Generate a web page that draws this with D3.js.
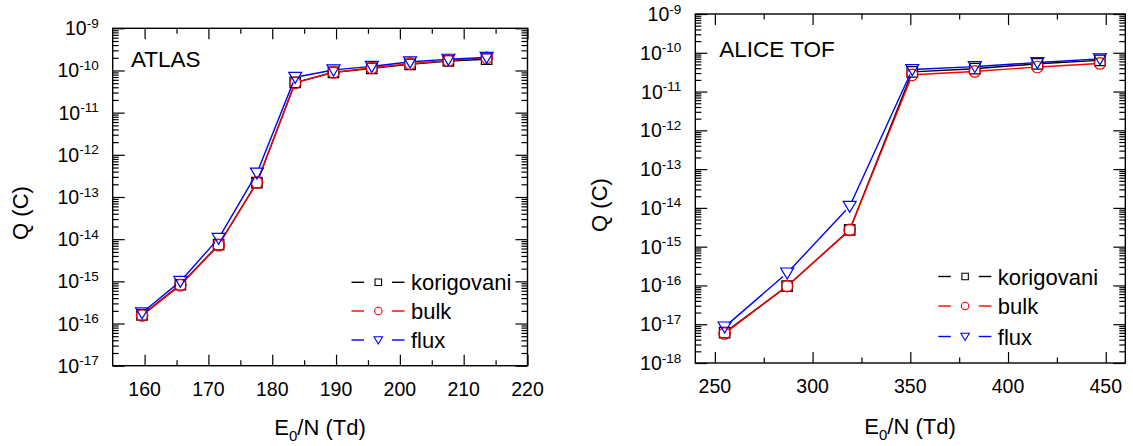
<!DOCTYPE html>
<html>
<head>
<meta charset="utf-8">
<script src="https://cdn.jsdelivr.net/npm/d3@7"></script>
<style>
  html, body { margin: 0; padding: 0; background: #fff; }
  svg { display: block; font-family: "Liberation Sans", Arial, Helvetica, sans-serif; }
</style>
</head>
<body>
<svg id="chart" width="1133" height="446"></svg>
<script>
// ---------------- DATA ----------------
const seriesNames = ["korigovani", "bulk", "flux"];

// ATLAS panel
const atlasE = [159.6, 165.6, 171.6, 177.6, 183.6, 189.6, 195.6, 201.6, 207.6, 213.6];
const atlasKorigovani = [1.6e-16, 8.3e-16, 7.4e-15, 2.2e-13, 5.2e-11, 9.0e-11, 1.12e-10, 1.4e-10, 1.68e-10, 1.85e-10];
const atlasBulk       = [1.55e-16, 8.1e-16, 7.2e-15, 2.2e-13, 5.1e-11, 9.0e-11, 1.15e-10, 1.45e-10, 1.72e-10, 2.0e-10];
const atlasFlux       = [1.8e-16, 1.0e-15, 1.05e-14, 3.7e-13, 6.9e-11, 1.03e-10, 1.25e-10, 1.6e-10, 1.85e-10, 2.05e-10];
const atlasXTicks = [160, 170, 180, 190, 200, 210, 220];
const atlasYExponents = [-17, -16, -15, -14, -13, -12, -11, -10, -9];

// ALICE TOF panel
const aliceE = [255, 287, 319, 351, 383, 415, 447];
const aliceKorigovani = [6.1e-18, 9.6e-17, 2.7e-15, 3.2e-11, 3.9e-11, 5.2e-11, 6.4e-11];
const aliceBulk       = [5.8e-18, 9.6e-17, 2.7e-15, 2.7e-11, 3.3e-11, 4.3e-11, 5.3e-11];
const aliceFlux       = [8.5e-18, 2.1e-16, 1.1e-14, 3.7e-11, 4.4e-11, 5.6e-11, 7.0e-11];
const aliceXTicks = [250, 300, 350, 400, 450];
const aliceYExponents = [-18, -17, -16, -15, -14, -13, -12, -11, -10, -9];

// ---------------- STYLE ----------------
const colors = { korigovani: "#000000", bulk: "#ff0000", flux: "#0000ff" };
const symbols = { korigovani: "square", bulk: "circle", flux: "triangle" };

const svg = d3.select("#chart");

function markerPath(sym, s) {
  // s: nominal size (width)
  if (sym === "square") {
    const h = s / 2;
    return `M${-h},${-h}H${h}V${h}H${-h}Z`;
  }
  if (sym === "circle") {
    const r = s / 2;
    return `M${r},0A${r},${r} 0 1,1 ${-r},0A${r},${r} 0 1,1 ${r},0Z`;
  }
  // downward triangle
  const w = s / 2, hh = s * 0.85;
  return `M${-w},${-hh * 0.45}L${w},${-hh * 0.45}L0,${hh * 0.55}Z`;
}

function drawPanel(cfg) {
  const g = svg.append("g");
  const p = cfg.plot;
  const x = d3.scaleLinear().domain(cfg.xDomain).range([p.l, p.r]);
  const y = d3.scaleLog().domain([Math.pow(10, cfg.yExp[0]), Math.pow(10, cfg.yExp[cfg.yExp.length - 1])]).range([p.b, p.t]);

  const xMinor = [];
  for (let i = 0; i < cfg.xTicks.length - 1; i++) xMinor.push((cfg.xTicks[i] + cfg.xTicks[i + 1]) / 2);
  const yMajor = cfg.yExp.map(e => Math.pow(10, e));
  const yMinor = [];
  for (let i = 0; i < cfg.yExp.length - 1; i++) for (let k = 2; k <= 9; k++) yMinor.push(k * Math.pow(10, cfg.yExp[i]));

  const tickStyle = sel => { sel.select(".domain").remove(); sel.selectAll("line").attr("stroke", "#000").attr("stroke-width", 1.2); sel.selectAll("text").remove(); };

  // bottom & top ticks (inward)
  g.append("g").attr("transform", `translate(0,${p.b})`).call(d3.axisBottom(x).tickValues(cfg.xTicks).tickSize(-11)).call(tickStyle);
  g.append("g").attr("transform", `translate(0,${p.b})`).call(d3.axisBottom(x).tickValues(xMinor).tickSize(-5.5)).call(tickStyle);
  g.append("g").attr("transform", `translate(0,${p.t})`).call(d3.axisTop(x).tickValues(cfg.xTicks).tickSize(-11)).call(tickStyle);
  g.append("g").attr("transform", `translate(0,${p.t})`).call(d3.axisTop(x).tickValues(xMinor).tickSize(-5.5)).call(tickStyle);
  // left & right ticks (inward)
  g.append("g").attr("transform", `translate(${p.l},0)`).call(d3.axisLeft(y).tickValues(yMajor).tickSize(-12)).call(tickStyle);
  g.append("g").attr("transform", `translate(${p.l},0)`).call(d3.axisLeft(y).tickValues(yMinor).tickSize(-6)).call(tickStyle);
  g.append("g").attr("transform", `translate(${p.r},0)`).call(d3.axisRight(y).tickValues(yMajor).tickSize(-12)).call(tickStyle);
  g.append("g").attr("transform", `translate(${p.r},0)`).call(d3.axisRight(y).tickValues(yMinor).tickSize(-6)).call(tickStyle);

  // frame
  g.append("rect").attr("x", p.l).attr("y", p.t).attr("width", p.r - p.l).attr("height", p.b - p.t)
    .attr("fill", "none").attr("stroke", "#000").attr("stroke-width", 1.4);

  // x tick labels
  g.selectAll(".xl").data(cfg.xTicks).enter().append("text")
    .attr("x", d => x(d)).attr("y", p.b + 30).attr("text-anchor", "middle")
    .attr("font-size", 19.5).attr("fill", "#000").text(d => d);

  // y tick labels: 10^e
  const yl = g.selectAll(".yl").data(cfg.yExp).enter().append("text")
    .attr("x", p.l - 14).attr("y", d => y(Math.pow(10, d)) + 7).attr("text-anchor", "end").attr("fill", "#000");
  yl.append("tspan").attr("font-size", 19.5).text("10");
  yl.append("tspan").attr("font-size", 13.5).attr("dy", -7.5).text(d => String(d));

  // axis titles
  g.append("text").attr("transform", `translate(${cfg.yTitle[0]},${cfg.yTitle[1]}) rotate(-90)`)
    .attr("text-anchor", "middle").attr("font-size", 22).text("Q (C)");
  const xt = g.append("text").attr("x", cfg.xTitle[0]).attr("y", cfg.xTitle[1]).attr("text-anchor", "middle").attr("font-size", 22);
  xt.append("tspan").text("E");
  xt.append("tspan").attr("font-size", 15).attr("dy", 6).text("0");
  xt.append("tspan").attr("dy", -6).text("/N (Td)");

  // panel label
  g.append("text").attr("x", cfg.label[0]).attr("y", cfg.label[1]).attr("font-size", 22.5).text(cfg.name);

  // series
  const series = [
    { name: "korigovani", values: cfg.korigovani },
    { name: "bulk", values: cfg.bulk },
    { name: "flux", values: cfg.flux }
  ];
  const gap = 5.5;
  const line = d3.line();
  series.forEach(s => {
    const pts = cfg.e.map((ev, i) => [x(ev), y(s.values[i])]);
    const sg = g.append("g");
    for (let i = 0; i < pts.length - 1; i++) {
      const [x0, y0] = pts[i], [x1, y1] = pts[i + 1];
      const len = Math.hypot(x1 - x0, y1 - y0);
      if (len <= 2 * gap) continue;
      const ux = (x1 - x0) / len, uy = (y1 - y0) / len;
      sg.append("path").attr("d", line([[x0 + ux * gap, y0 + uy * gap], [x1 - ux * gap, y1 - uy * gap]]))
        .attr("stroke", colors[s.name]).attr("stroke-width", 1.4).attr("fill", "none");
    }
    const msize = symbols[s.name] === "triangle" ? 13 : (symbols[s.name] === "circle" ? 11.5 : 10.5);
    sg.selectAll("path.m").data(pts).enter().append("path").attr("class", "m")
      .attr("transform", d => `translate(${d[0]},${d[1]})`)
      .attr("d", markerPath(symbols[s.name], msize))
      .attr("fill", "none").attr("stroke", colors[s.name]).attr("stroke-width", 1.2);
  });

  // legend
  const lg = g.append("g");
  seriesNames.forEach((name, i) => {
    const ry = cfg.legend.rows[i];
    const lx = cfg.legend.x;
    lg.append("line").attr("x1", lx).attr("x2", lx + 12.5).attr("y1", ry).attr("y2", ry).attr("stroke", colors[name]).attr("stroke-width", 1.4);
    lg.append("line").attr("x1", lx + 40.5).attr("x2", lx + 53).attr("y1", ry).attr("y2", ry).attr("stroke", colors[name]).attr("stroke-width", 1.4);
    const ms = symbols[name] === "triangle" ? 8.5 : (symbols[name] === "circle" ? 7.5 : 6.5);
    lg.append("path").attr("transform", `translate(${lx + 26.8},${ry})`).attr("d", markerPath(symbols[name], ms))
      .attr("fill", "none").attr("stroke", colors[name]).attr("stroke-width", 1.1);
    lg.append("text").attr("x", lx + 59.5).attr("y", ry + 8).attr("font-size", 22).text(name);
  });
}

drawPanel({
  name: "ATLAS",
  e: atlasE, korigovani: atlasKorigovani, bulk: atlasBulk, flux: atlasFlux,
  xDomain: [155, 220], xTicks: atlasXTicks, yExp: atlasYExponents,
  plot: { l: 112.7, r: 527.5, t: 28.3, b: 365.7 },
  label: [131, 66.7],
  legend: { x: 351.5, rows: [282.3, 311, 340] },
  yTitle: [28, 213], xTitle: [320, 435]
});

drawPanel({
  name: "ALICE TOF",
  e: aliceE, korigovani: aliceKorigovani, bulk: aliceBulk, flux: aliceFlux,
  xDomain: [240, 460], xTicks: aliceXTicks, yExp: aliceYExponents,
  plot: { l: 695.3, r: 1125.3, t: 14, b: 363 },
  label: [719.3, 57.3],
  legend: { x: 938.3, rows: [276.5, 306, 336.5] },
  yTitle: [606.5, 205], xTitle: [910, 434]
});
</script>
</body>
</html>
